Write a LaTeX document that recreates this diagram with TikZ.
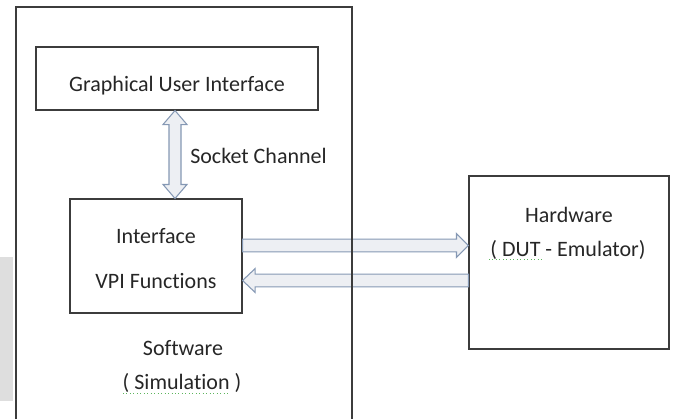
\documentclass[tikz,border=0pt]{standalone}
\usepackage{fontspec}
\setmainfont{Carlito}[Ligatures=NoCommon]
\usetikzlibrary{calc}

\definecolor{framegray}{HTML}{3C3C3C}
\definecolor{arrowfill}{HTML}{EDEFF3}
\definecolor{arrowline}{HTML}{8598B4}
\definecolor{bargray}{HTML}{DEDEDE}
\definecolor{squiggle}{HTML}{5DB55D}

\tikzset{
  block/.style={draw=framegray,line width=0.8pt,inner sep=0pt},
  fatarrow/.style={draw=arrowline,fill=arrowfill,line width=0.8pt,line join=miter},
  lbl/.style={font=\fontsize{16.5}{20}\selectfont,text=black!85,inner sep=0pt,anchor=base}
}

\begin{document}
\begin{tikzpicture}[x=0.75pt,y=-0.75pt]
\useasboundingbox (0,0) rectangle (675,419);

\def\SPELLMARK{squiggle}
	\fill[bargray] (0,257) rectangle (13,401);

	% boxes
	\node[block,minimum width=211.5pt,minimum height=47.25pt] (gui) at (177,78.5) {};
	\node[block,minimum width=129pt,minimum height=85.5pt] (iface) at (156,256) {};
	\node[block,minimum width=150pt,minimum height=129.75pt] (hw) at (569,262.5) {};

	% texts
	\node[lbl] (guitxt) at (177,91) {Graphical User Interface};
	\node[lbl,anchor=base west] (socktxt) at (190,163) {Socket Channel};
	\node[lbl] (ifacetxt) at (156,243) {Interface};
	\node[lbl] (vpitxt) at (156,288.5) {VPI Functions};
	\node[lbl] (swtxt) at (183,355) {Software};
	\node[lbl] (simtxt) at (182,389.5) {( Simulation )};
	\node[lbl] (hwtxt) at (569,222) {Hardware};
	\node[lbl] (duttxt) at (568,256) {( DUT - Emulator)};
	\draw[\SPELLMARK,dotted,line width=0.6pt] (123,393.5) -- (230,393.5);
	\draw[\SPELLMARK,dotted,line width=0.6pt] (489,259.5) -- (542,259.5);

	% socket channel
	\coordinate (sockA) at ($(gui.south)+(-2,0)$);
	\coordinate (sockB) at (sockA |- iface.north);
	\draw[fatarrow] let \p1=(sockA), \p2=(sockB) in
	  (\x1,\y1) -- (\x1+9pt,\y1-10.5pt) -- (\x1+4.5pt,\y1-10.5pt) -- (\x1+4.5pt,\y2+10.5pt)
	  -- (\x1+9pt,\y2+10.5pt) -- (\x2,\y2) -- (\x1-9pt,\y2+10.5pt) -- (\x1-4.5pt,\y2+10.5pt)
	  -- (\x1-4.5pt,\y1-10.5pt) -- (\x1-9pt,\y1-10.5pt) -- cycle;

	% to the hardware
	\coordinate (txA) at ($(iface.east)+(0,-10.5)$);
	\coordinate (txB) at (txA -| hw.west);
	\draw[fatarrow] let \p1=(txA), \p2=(txB) in
	  (\x1,\y1+4.75pt) -- (\x2-9pt,\y1+4.75pt) -- (\x2-9pt,\y1+9pt) -- (\x2,\y1)
	  -- (\x2-9pt,\y1-9pt) -- (\x2-9pt,\y1-4.75pt) -- (\x1,\y1-4.75pt) -- cycle;

	% back from the hardware
	\coordinate (rxA) at ($(hw.west)+(0,18)$);
	\coordinate (rxB) at (rxA -| iface.east);
	\draw[fatarrow] let \p1=(rxA), \p2=(rxB) in
	  (\x1,\y1+4.75pt) -- (\x2+9.5pt,\y1+4.75pt) -- (\x2+9.5pt,\y1+9pt) -- (\x2,\y1)
	  -- (\x2+9.5pt,\y1-9pt) -- (\x2+9.5pt,\y1-4.75pt) -- (\x1,\y1-4.75pt) -- cycle;

	% software side, open at the bottom
	\draw[framegray,line width=0.8pt] (16,419) -- (16,7) -- (352,7) -- (352,419);

\end{tikzpicture}
\end{document}
